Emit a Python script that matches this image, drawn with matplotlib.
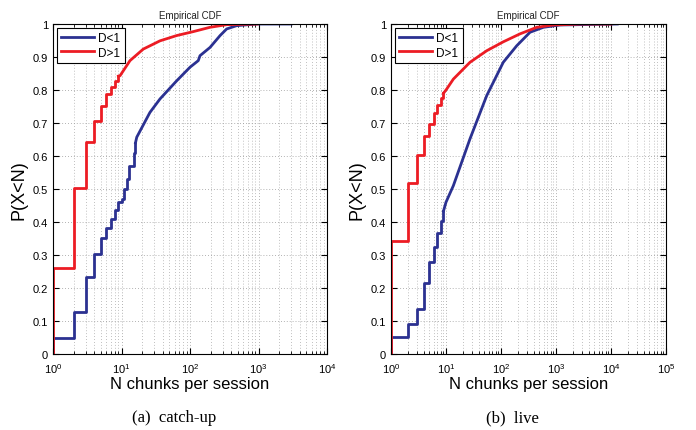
import numpy as np
import matplotlib
matplotlib.use('Agg')
from matplotlib import pyplot as plt
from matplotlib.ticker import LogLocator, NullFormatter

plt.rcParams['font.family'] = ['Liberation Sans', 'DejaVu Sans']

# (a) catch-up
cu_low_N = [1, 1, 2, 3, 4, 5, 6, 7, 8, 9, 10, 11, 12, 13, 15, 16]
cu_low_P = [0.0, 0.05, 0.127, 0.234, 0.304, 0.352, 0.383, 0.41, 0.436, 0.46, 0.47, 0.50, 0.53, 0.57, 0.61, 0.64]
cu_low_tail_N = [16, 16.7, 26, 36.5, 64, 100, 132, 140, 196, 275, 343, 480, 940, 3000]
cu_low_tail_P = [0.64, 0.657, 0.732, 0.773, 0.828, 0.869, 0.889, 0.904, 0.929, 0.965, 0.985, 0.995, 1.0, 1.0]

cu_high_N = [1, 1, 2, 3, 4, 5, 6, 7, 8, 9]
cu_high_P = [0.0, 0.262, 0.503, 0.642, 0.705, 0.752, 0.787, 0.81, 0.827, 0.842]
cu_high_tail_N = [9, 9.5, 13.3, 20.8, 36.5, 64, 112, 196, 343, 960]
cu_high_tail_P = [0.842, 0.843, 0.889, 0.924, 0.949, 0.965, 0.977, 0.99, 0.998, 1.0]

# (b) live
lv_low_N = [1, 1, 2, 3, 4, 5, 6, 7, 8, 9]
lv_low_P = [0.0, 0.052, 0.09, 0.136, 0.216, 0.28, 0.325, 0.367, 0.403, 0.433]
lv_low_tail_N = [9, 10, 13.6, 27.3, 55, 110, 193, 337, 590, 1180, 13000]
lv_low_tail_P = [0.433, 0.46, 0.51, 0.652, 0.783, 0.884, 0.934, 0.975, 0.99, 0.997, 1.0]

lv_high_N = [1, 1, 2, 3, 4, 5, 6, 7, 8, 9]
lv_high_P = [0.0, 0.342, 0.518, 0.604, 0.66, 0.698, 0.73, 0.756, 0.776, 0.79]
lv_high_tail_N = [9, 10.3, 13.6, 27.3, 55, 110, 221, 447, 890, 2850, 10000]
lv_high_tail_P = [0.79, 0.803, 0.833, 0.884, 0.919, 0.946, 0.97, 0.99, 0.997, 1.0, 1.0]

blue = '#2b3191'
red = '#ec1c24'

panels = [
	dict(left=53, right=327, xmax=1e4, caption='(a)  catch-up', cap_x=174,
		low=(cu_low_N, cu_low_P, cu_low_tail_N, cu_low_tail_P),
		high=(cu_high_N, cu_high_P, cu_high_tail_N, cu_high_tail_P)),
	dict(left=391, right=666, xmax=1e5, caption='(b)  live', cap_x=512,
		low=(lv_low_N, lv_low_P, lv_low_tail_N, lv_low_tail_P),
		high=(lv_high_N, lv_high_P, lv_high_tail_N, lv_high_tail_P)),
]

W, H = 696, 431
fig = plt.figure(figsize=(W / 100, H / 100), dpi=100)

def draw(ax, series, color, label):
	n, p, tn, tp = series
	ax.plot(n, p, color=color, lw=2, drawstyle='steps-post', label=label)
	ax.plot(tn, tp, color=color, lw=2)

for pn in panels:
	ax = fig.add_axes([pn['left'] / W, 1 - 355 / H, (pn['right'] - pn['left']) / W, 330 / H])
	draw(ax, pn['low'], blue, 'D<1')
	draw(ax, pn['high'], red, 'D>1')
	ax.set_xscale('log')
	ax.set_xlim(1, pn['xmax'])
	ax.set_ylim(0, 1)
	ax.set_yticks(np.arange(0, 1.01, 0.1))
	ax.set_yticklabels(['0', '0.1', '0.2', '0.3', '0.4', '0.5', '0.6', '0.7', '0.8', '0.9', '1'])
	ax.xaxis.set_major_locator(LogLocator(base=10, numticks=10))
	ax.xaxis.set_minor_locator(LogLocator(base=10, subs=np.arange(2, 10), numticks=100))
	ax.xaxis.set_minor_formatter(NullFormatter())
	ax.tick_params(direction='in', which='both', top=True, right=True, labelsize=8)
	ax.tick_params(axis='x', pad=5)
	ax.tick_params(which='major', length=4)
	ax.tick_params(which='minor', length=2)
	ax.grid(True, which='major', linestyle=(0, (1, 2.5)), color='#999999', lw=0.6)
	ax.grid(True, which='minor', axis='x', linestyle=(0, (1, 2.5)), color='#aaaaaa', lw=0.6)
	for s in ax.spines.values():
		s.set_linewidth(0.8)
	ax.set_title('Empirical CDF', fontsize=7, pad=4, color='#222222')
	ax.set_xlabel('N chunks per session', fontsize=12, labelpad=1)
	ax.set_ylabel('P(X<N)', fontsize=13, labelpad=4)
	leg = ax.legend(loc='upper left', fontsize=8.5, frameon=True, fancybox=False, framealpha=1,
		borderaxespad=0.3, handlelength=2.8, handletextpad=0.4, borderpad=0.35, labelspacing=0.25)
	leg.get_frame().set_edgecolor('black')
	leg.get_frame().set_linewidth(0.8)
	fig.text(pn['cap_x'] / W, 1 - 418 / H, pn['caption'], ha='center', va='center',
		fontsize=12, family=['Liberation Serif', 'DejaVu Serif'])

fig.savefig('out.png', dpi=100)
